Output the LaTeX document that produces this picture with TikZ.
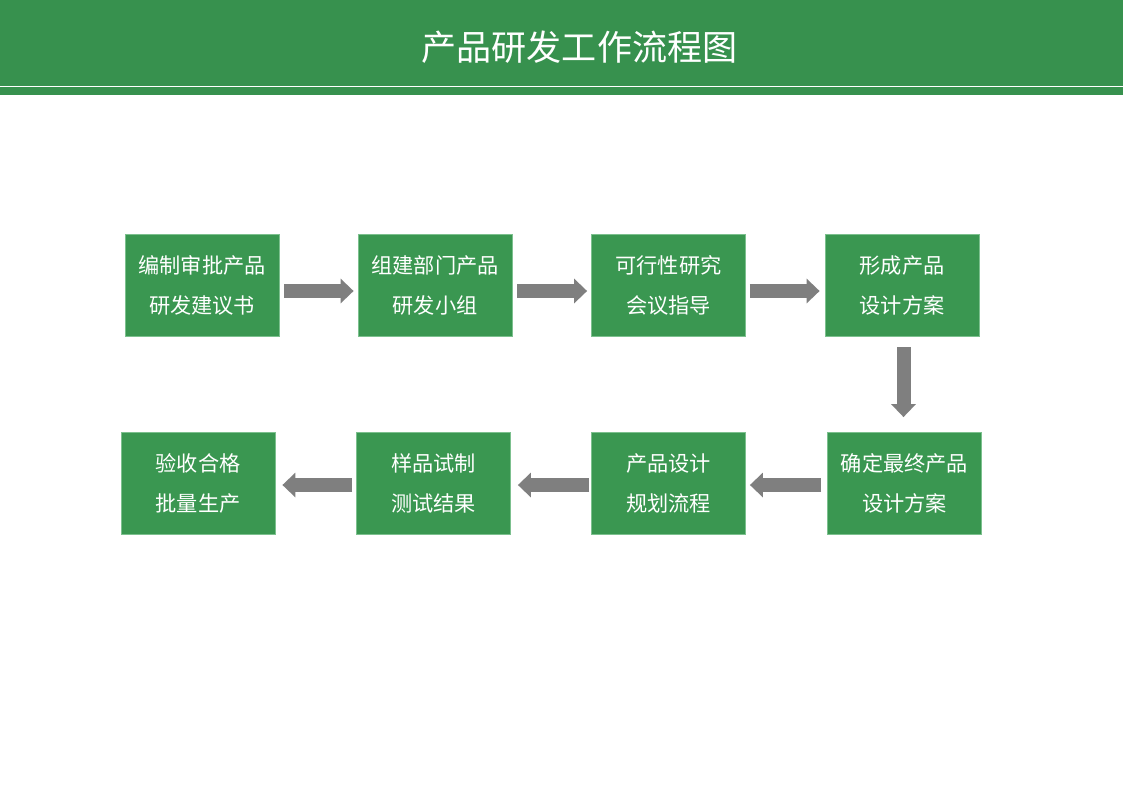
\documentclass[tikz,border=0pt]{standalone}
\usepackage{fontspec}
\setmainfont{Noto Sans CJK SC}
\usetikzlibrary{arrows.meta}
\definecolor{hdrgreen}{HTML}{37914E}
\definecolor{boxgreen}{HTML}{3A9751}
\definecolor{edgegreen}{HTML}{7CC08E}
\definecolor{arrgray}{HTML}{7F7F7F}
\tikzset{
  stepbox/.style={fill=boxgreen, draw=edgegreen, line width=0.6pt, text=white,
    minimum width=154*0.75pt, minimum height=102*0.75pt, inner sep=0pt,
    align=center, font=\fontsize{15.9}{30}\selectfont},
  barrow/.style={draw=arrgray, line width=14*0.75pt, line cap=butt,
    -{Triangle[width=24*0.75pt, length=13*0.75pt]}, color=arrgray},
}
\begin{document}
\begin{tikzpicture}[x=0.75pt, y=-0.75pt]
\useasboundingbox (0,0) rectangle (1123,794);
\fill[white] (0,0) rectangle (1123,794);
% header
\fill[hdrgreen] (0,0) rectangle (1123,95);
\draw[white, line width=1.5*0.75pt] (0,86.5) -- (1123,86.5);
\node[text=white, font=\fontsize{26.3}{30}\selectfont] (title) at (579.5,47) {产品研发工作流程图};
% boxes
\node[stepbox] (b1) at (202,285) {编制审批产品\\研发建议书};
\node[stepbox] (b2) at (435,285) {组建部门产品\\研发小组};
\node[stepbox] (b3) at (668.5,285) {可行性研究\\会议指导};
\node[stepbox] (b4) at (902,285) {形成产品\\设计方案};
\node[stepbox] (b5) at (904.5,483.5) {确定最终产品\\设计方案};
\node[stepbox] (b6) at (668.5,483.5) {产品设计\\规划流程};
\node[stepbox] (b7) at (433.5,483.5) {样品试制\\测试结果};
\node[stepbox] (b8) at (198,483.5) {验收合格\\批量生产};
% arrows
\draw[barrow] ([xshift=5*0.75pt, yshift=-6*0.75pt]b1.east) -- ([xshift=-4*0.75pt, yshift=-6*0.75pt]b2.west);
\draw[barrow] ([xshift=5*0.75pt, yshift=-6*0.75pt]b2.east) -- ([xshift=-4*0.75pt, yshift=-6*0.75pt]b3.west);
\draw[barrow] ([xshift=4*0.75pt, yshift=-6*0.75pt]b3.east) -- ([xshift=-5*0.75pt, yshift=-6*0.75pt]b4.west);
\draw[barrow] ([xshift=1.5*0.75pt, yshift=-11*0.75pt]b4.south) -- ([xshift=-1*0.75pt, yshift=15*0.75pt]b5.north);
\draw[barrow] ([xshift=-6*0.75pt, yshift=-1.5*0.75pt]b5.west) -- ([xshift=4*0.75pt, yshift=-1.5*0.75pt]b6.east);
\draw[barrow] ([xshift=-2*0.75pt, yshift=-1.5*0.75pt]b6.west) -- ([xshift=7*0.75pt, yshift=-1.5*0.75pt]b7.east);
\draw[barrow] ([xshift=-4*0.75pt, yshift=-1.5*0.75pt]b7.west) -- ([xshift=7*0.75pt, yshift=-1.5*0.75pt]b8.east);
\end{tikzpicture}
\end{document}
